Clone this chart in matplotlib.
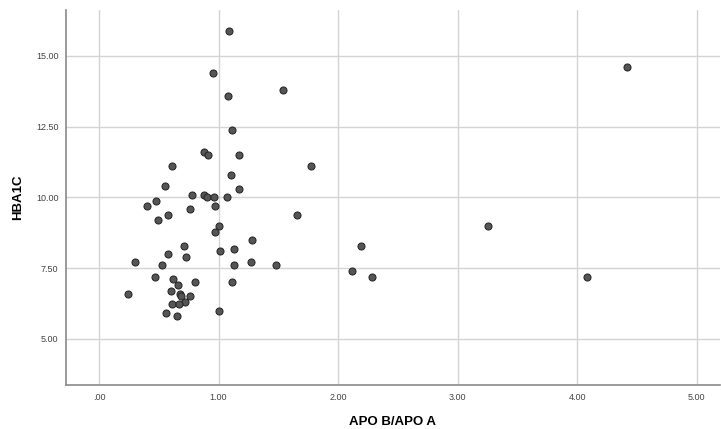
import matplotlib
matplotlib.use("Agg")
import matplotlib.pyplot as plt
from matplotlib.ticker import FuncFormatter

# APO B / APO A ratio vs HBA1C
apo_ratio = [1.09, 0.95, 1.08, 1.54, 1.11, 0.88, 0.91, 1.17, 0.61, 1.77,
             1.10, 0.55, 1.17, 0.78, 0.88, 0.90, 0.96, 1.07, 0.48, 0.40,
             0.97, 0.76, 0.58, 1.66, 0.49, 1.00, 0.97, 1.28, 0.71, 2.19,
             1.13, 1.01, 0.58, 0.73, 0.30, 1.27, 0.53, 1.13, 1.48, 0.47,
             2.12, 2.28, 0.62, 0.66, 0.80, 1.11, 0.60, 0.68, 0.685, 0.76,
             0.24, 0.72, 0.61, 0.67, 0.56, 1.00, 0.65, 3.25, 4.08, 4.42]
hba1c = [15.87, 14.39, 13.58, 13.79, 12.39, 11.60, 11.49, 11.49, 11.10, 11.10,
         10.80, 10.41, 10.30, 10.09, 10.09, 10.01, 10.01, 10.01, 9.89, 9.70,
         9.70, 9.59, 9.39, 9.39, 9.19, 8.99, 8.79, 8.50, 8.30, 8.30,
         8.19, 8.10, 8.00, 7.90, 7.70, 7.70, 7.60, 7.60, 7.60, 7.20,
         7.40, 7.20, 7.10, 6.90, 7.00, 7.00, 6.70, 6.60, 6.50, 6.50,
         6.60, 6.30, 6.22, 6.22, 5.92, 6.00, 5.80, 9.00, 7.20, 14.60]

x_ticks = [0, 1, 2, 3, 4, 5]
y_ticks = [5.0, 7.5, 10.0, 12.5, 15.0]


def spss_fmt(v, pos):
    s = f"{v:.2f}"
    if s.startswith("0"):
        s = s[1:]
    return s


plt.rcParams["font.family"] = ["Liberation Sans", "DejaVu Sans"]

fig = plt.figure(figsize=(7.21, 4.29), dpi=100)
ax = fig.add_axes([0.0915, 0.1026, 0.9065, 0.8744])

ax.scatter(apo_ratio, hba1c, s=26, color="#555555", edgecolors="#222222",
           linewidths=0.7, zorder=3)

ax.set_xlim(-0.276, 5.19)
ax.set_ylim(3.37, 16.63)
ax.set_xticks(x_ticks)
ax.set_yticks(y_ticks)
ax.xaxis.set_major_formatter(FuncFormatter(spss_fmt))
ax.yaxis.set_major_formatter(FuncFormatter(spss_fmt))
ax.tick_params(length=0, labelsize=6.5, labelcolor="#444444")
ax.tick_params(axis="x", pad=6)
ax.tick_params(axis="y", pad=5.5)

ax.grid(True, color="#d4d4d4", linewidth=1.0, zorder=0)
ax.set_axisbelow(True)
for side in ["top", "right"]:
    ax.spines[side].set_visible(False)
for side in ["left", "bottom"]:
    ax.spines[side].set_color("#8a8a8a")
    ax.spines[side].set_linewidth(1.2)

ax.set_xlabel("APO B/APO A", fontsize=9.5, fontweight="bold", va="center")
ax.set_ylabel("HBA1C", fontsize=9.5, fontweight="bold", va="center")
ax.xaxis.set_label_coords(0.5, -0.099)
ax.yaxis.set_label_coords(-0.073, 0.5)

fig.savefig("out.png", dpi=100)
